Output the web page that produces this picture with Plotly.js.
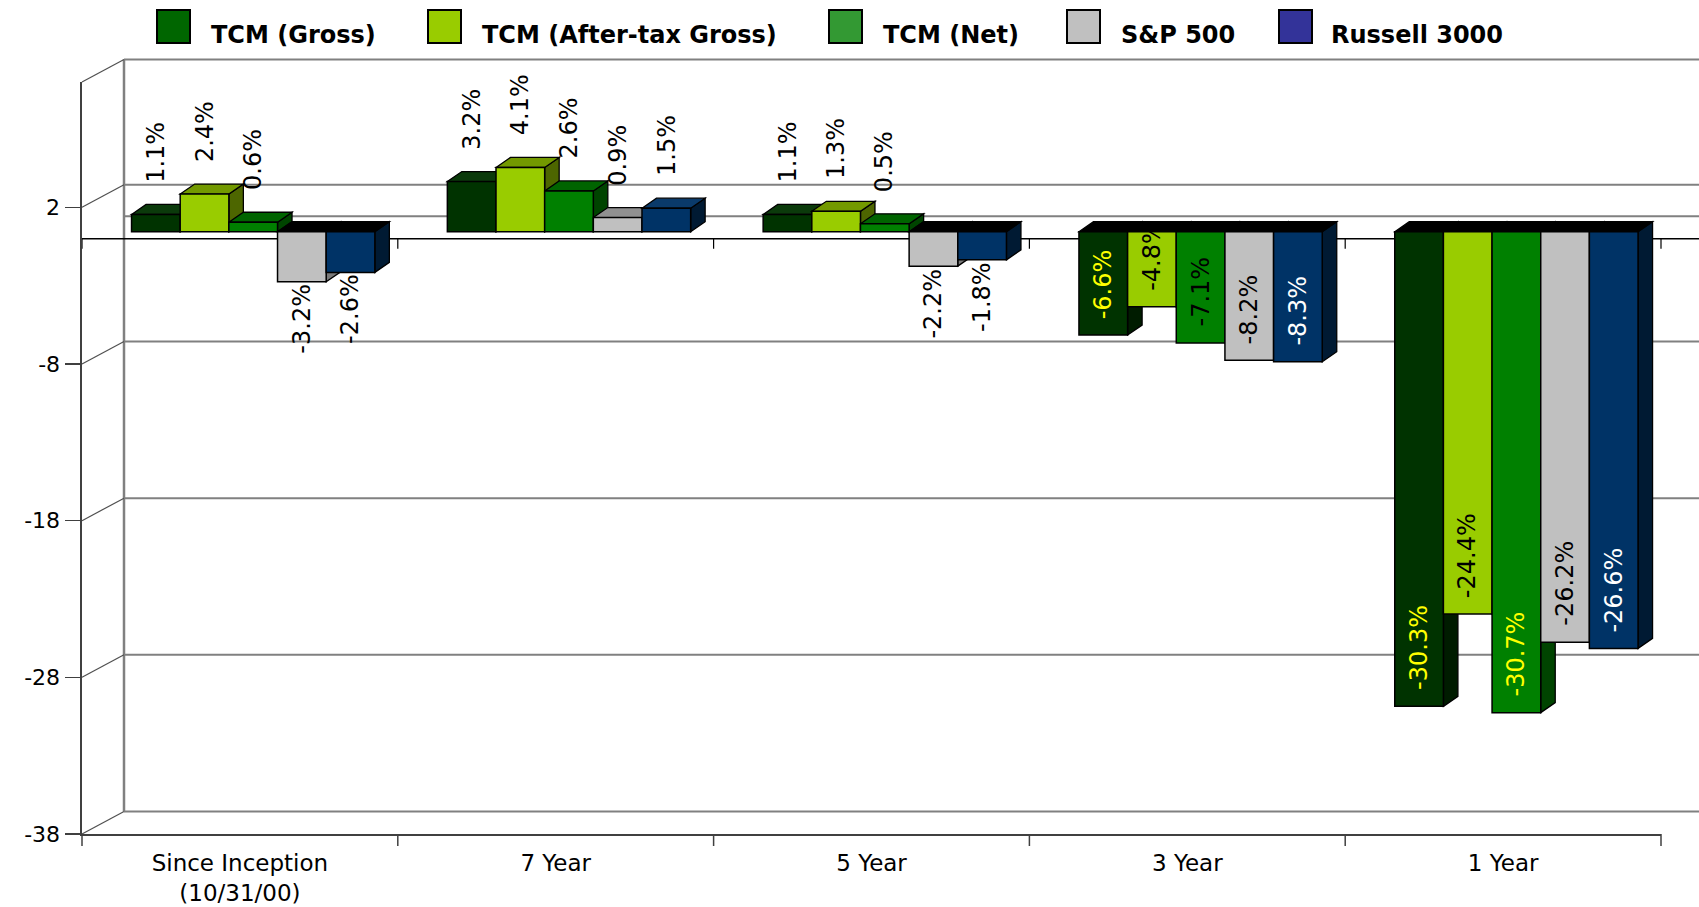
<!DOCTYPE html>
<html><head><meta charset="utf-8">
<script src="https://cdn.plot.ly/plotly-3.0.1.min.js"></script>
<style>html,body{margin:0;padding:0;background:#fff;}#chart{width:1699px;height:907px;}</style>
</head><body><div id="chart"></div>
<script>
// ---------------- data ----------------
const categories = ['Since Inception<br>(10/31/00)', '7 Year', '5 Year', '3 Year', '1 Year'];
const seriesNames = ['TCM (Gross)', 'TCM (After-tax Gross)', 'TCM (Net)', 'S&P 500', 'Russell 3000'];
const tcmGross    = [1.1, 3.2, 1.1, -6.6, -30.3];
const tcmAfterTax = [2.4, 4.1, 1.3, -4.8, -24.4];
const tcmNet      = [0.6, 2.6, 0.5, -7.1, -30.7];
const sp500       = [-3.2, 0.9, -2.2, -8.2, -26.2];
const russell3000 = [-2.6, 1.5, -1.8, -8.3, -26.6];
const yTickVals = [2, -8, -18, -28, -38];
const yTickText = ['2', '-8', '-18', '-28', '-38'];

// ---------------- styles ----------------
const seriesValues = [tcmGross, tcmAfterTax, tcmNet, sp500, russell3000];
const legendColors = ['#006600', '#99CC00', '#339933', '#C0C0C0', '#333399'];
const frontColors  = ['#003300', '#99CC00', '#008000', '#C0C0C0', '#003366'];
const topColors    = ['#0b3a0b', '#739900', '#006400', '#909090', '#0a3a6a'];
const sideColors   = ['#001c00', '#4d6600', '#004400', '#7a7a7a', '#001a33'];
const negTopColor  = '#000000';
// label colours for labels drawn inside the long negative bars
const insideLabelColors = [
  ['#FFFF00', '#FFFF00'],
  ['#000000', '#000000'],
  ['#000000', '#FFFF00'],
  ['#000000', '#000000'],
  ['#FFFFFF', '#FFFFFF']
];
const FONT = 'DejaVu Sans, Verdana, sans-serif';

const W = 1699, H = 907;
const FX0 = 82, FX1 = 1661, FYT = 82, FYB = 834;
const YMIN = -38, YMAX = 10;
const DX = 42, DY = 22.5;          // wall depth in px
const BX = 13.3, BY = 7;           // bar plane offset in px
const BAR_PX = 48.66, FACE_DX = 14.5, FACE_DY = 10;
const slotPx = (FX1 - FX0) / categories.length;
const yScale = (FYB - FYT) / (YMAX - YMIN);
const yF = v => FYB - (v - YMIN) * yScale;
const px = x => x / W, py = y => 1 - y / H;

const shapes = [];
const annotations = [];
const wallColor = '#808080';
const axisColor = '#404040';

function pline(x0, y0, x1, y1, color, width) {
  shapes.push({type: 'line', xref: 'paper', yref: 'paper',
    x0: px(x0), y0: py(y0), x1: px(x1), y1: py(y1),
    line: {color: color, width: width}, layer: 'below'});
}

// back wall
const backLines = [2, 0, -8, -18, -28, -38];
pline(FX0 + DX, yF(YMAX) - DY, W + 5, yF(YMAX) - DY, wallColor, 2);
pline(FX0 + DX, yF(YMAX) - DY, FX0 + DX, yF(YMIN) - DY, wallColor, 2.5);
backLines.forEach(v => pline(FX0 + DX, yF(v) - DY, W + 5, yF(v) - DY, wallColor, 2));
// side wall diagonals
[YMAX].concat(yTickVals).forEach(v => pline(FX0, yF(v), FX0 + DX, yF(v) - DY, '#505050', 1.2));
// front zero line with ticks
pline(FX0, yF(0), W + 5, yF(0), '#000000', 1.5);
for (let k = 0; k <= categories.length; k++) {
  const xb = FX0 + k * slotPx;
  pline(xb, yF(0), xb, yF(0) + 10, '#000000', 1.2);
  pline(xb, FYB, xb, FYB + 12, axisColor, 1.5);
}

// bars
const barW = BAR_PX / slotPx;
const fdx = FACE_DX / slotPx, fdy = FACE_DY / yScale;
const traces = [];
// helper trace so that the front (x, y) frame subplot is created; draws nothing
traces.push({type: 'scatter', mode: 'markers', x: [0], y: [null], xaxis: 'x', yaxis: 'y',
  showlegend: false, hoverinfo: 'skip', marker: {opacity: 0}});
seriesValues.forEach((vals, s) => {
  traces.push({
    type: 'bar', name: seriesNames[s], xaxis: 'x2', yaxis: 'y2',
    x: categories.map((c, i) => i + (s - 2) * barW),
    y: vals, width: barW, showlegend: false, hoverinfo: 'skip',
    marker: {color: frontColors[s], line: {color: '#000000', width: 1.5}}
  });
});

// 3D faces (side then top), left to right
categories.forEach((c, i) => {
  seriesValues.forEach((vals, s) => {
    const v = vals[i];
    const x0 = i + (s - 2) * barW - barW / 2, x1 = x0 + barW;
    const top = Math.max(0, v), bot = Math.min(0, v);
    shapes.push({type: 'path', xref: 'x2', yref: 'y2', layer: 'below',
      path: `M${x1},${bot} L${x1 + fdx},${bot + fdy} L${x1 + fdx},${top + fdy} L${x1},${top} Z`,
      fillcolor: sideColors[s], line: {color: '#000000', width: 1.3}});
    shapes.push({type: 'path', xref: 'x2', yref: 'y2', layer: 'below',
      path: `M${x0},${top} L${x0 + fdx},${top + fdy} L${x1 + fdx},${top + fdy} L${x1},${top} Z`,
      fillcolor: v >= 0 ? topColors[s] : negTopColor, line: {color: '#000000', width: 1.3}});
  });
});

// data labels
seriesValues.forEach((vals, s) => {
  let insideIdx = 0;
  vals.forEach((v, i) => {
    const a = {xref: 'x2', yref: 'y2', x: i + (s - 2) * barW, y: v,
      text: v.toFixed(1) + '%', textangle: -90, showarrow: false,
      font: {family: FONT, size: 24, color: '#000000'}, xanchor: 'center'};
    if (v >= 0) { a.yanchor = 'bottom'; a.yshift = 30; }
    else if (v >= -4) { a.yanchor = 'top'; a.yshift = 0; }
    else { a.yanchor = 'bottom'; a.yshift = 14; a.font.color = insideLabelColors[s][insideIdx++]; }
    annotations.push(a);
  });
});

// legend (drawn manually to match large swatches)
const legSwatchX = [157, 428, 829, 1067, 1279];
const legTextX = [209, 480, 881, 1119, 1329];
seriesNames.forEach((n, s) => {
  shapes.push({type: 'rect', xref: 'paper', yref: 'paper', layer: 'above',
    x0: px(legSwatchX[s]), x1: px(legSwatchX[s] + 33), y0: py(10), y1: py(43),
    fillcolor: legendColors[s], line: {color: '#000000', width: 2}});
  annotations.push({xref: 'paper', yref: 'paper', x: px(legTextX[s]), y: py(35),
    xanchor: 'left', yanchor: 'middle', showarrow: false, text: n,
    font: {family: FONT, size: 24, color: '#000000', weight: 700}});
});

const layout = {
  width: W, height: H, autosize: false,
  margin: {l: 0, r: 0, t: 0, b: 0, pad: 0},
  paper_bgcolor: '#ffffff', plot_bgcolor: 'rgba(0,0,0,0)',
  showlegend: false, barmode: 'overlay',
  font: {family: FONT, color: '#000000'},
  xaxis: {domain: [px(FX0), px(FX1)], range: [-0.5, categories.length - 0.5],
    tickvals: categories.map((c, i) => i), ticktext: categories,
    ticks: 'outside', ticklen: 7, tickcolor: 'rgba(0,0,0,0)',
    tickfont: {family: FONT, size: 23, color: '#000000'},
    showline: true, linecolor: axisColor, linewidth: 2,
    showgrid: false, zeroline: false, fixedrange: true, anchor: 'y'},
  yaxis: {domain: [py(FYB), py(FYT)], range: [YMIN, YMAX],
    tickvals: yTickVals, ticktext: yTickText,
    ticks: 'outside', ticklen: 15, tickwidth: 1.5, tickcolor: axisColor,
    tickfont: {family: FONT, size: 22, color: '#000000'},
    showline: true, linecolor: axisColor, linewidth: 2.5,
    showgrid: false, zeroline: false, fixedrange: true, anchor: 'x'},
  xaxis2: {domain: [px(FX0 + BX), px(FX1 + BX)], range: [-0.5, categories.length - 0.5],
    visible: false, fixedrange: true, anchor: 'y2'},
  yaxis2: {domain: [py(FYB - BY), py(FYT - BY)], range: [YMIN, YMAX],
    visible: false, fixedrange: true, anchor: 'x2'},
  shapes: shapes,
  annotations: annotations
};

Plotly.newPlot('chart', traces, layout, {displayModeBar: false, staticPlot: true});
</script>
</body></html>
